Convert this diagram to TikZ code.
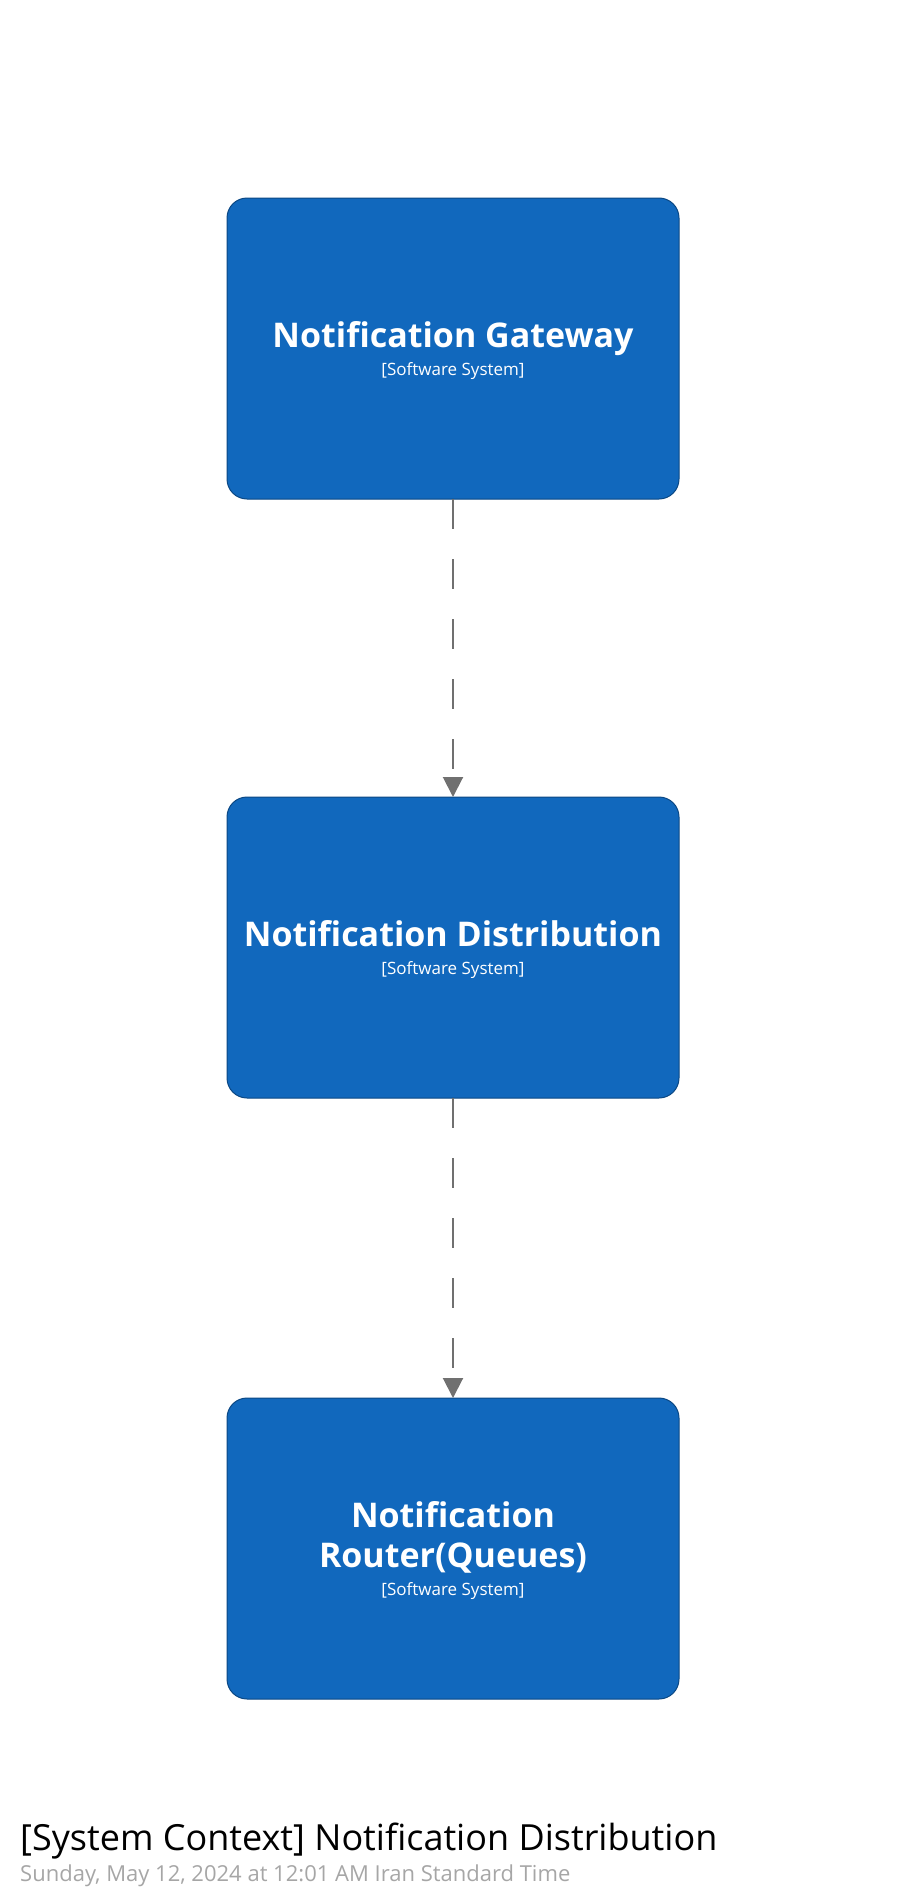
\documentclass[tikz,border=0pt]{standalone}
\usepackage{fontspec}
\setmainfont{Open Sans}
\usetikzlibrary{arrows.meta}

\definecolor{sysblue}{HTML}{1168BD}
\definecolor{sysborder}{HTML}{0B4884}
\definecolor{relgray}{HTML}{707070}
\definecolor{dategray}{HTML}{A6A6A6}

\tikzset{
    softsys/.style={rectangle, rounded corners=20pt, fill=sysblue, draw=sysborder, line width=1pt,
        minimum width=452pt, minimum height=301pt, outer sep=0pt, inner sep=0pt, align=center,
        text=white, font=\fontsize{34}{40}\selectfont\bfseries},
    rel/.style={draw=relgray, line width=2pt, dash pattern=on 30pt off 30pt,
        -{Triangle[length=20pt, width=20pt, fill=relgray]}},
}
\newcommand{\systag}{\\[-12pt]{\fontsize{17}{22}\selectfont\mdseries [Software System]}}

\begin{document}
\begin{tikzpicture}[x=1pt, y=-1pt]
        \useasboundingbox (0,0) rectangle (907,1900);
        \node[softsys, text depth=-3pt] (gateway) at (453, 348.5) {Notification Gateway\systag};
        \node[softsys, text depth=-3pt] (distribution) at (453, 947.5) {Notification Distribution\systag};
        \node[softsys, text depth=-3pt] (router) at (453, 1548.5) {Notification\\Router(Queues)\systag};

        \draw[rel] (gateway) -- (distribution);
        \draw[rel] (distribution) -- (router);

        \node[anchor=base west, inner sep=0pt, font=\fontsize{36}{40}\selectfont] (title) at (20, 1850) {[System Context] Notification Distribution};
        \node[anchor=base west, inner sep=0pt, text=dategray, font=\fontsize{22}{26}\selectfont] (date) at (20, 1881) {Sunday, May 12, 2024 at 12:01 AM Iran Standard Time};
    \end{tikzpicture}
\end{document}
